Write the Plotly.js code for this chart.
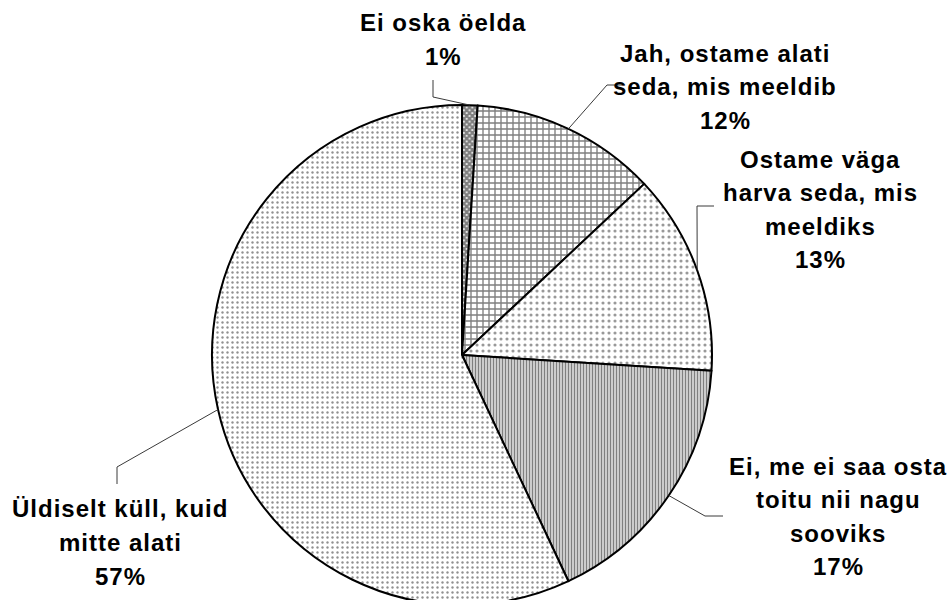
<!DOCTYPE html>
<html><head><meta charset="utf-8">
<script src="https://cdn.plot.ly/plotly-3.0.1.min.js"></script>
<style>html,body{margin:0;padding:0;overflow:hidden;background:#fff}#chart{width:951px;height:610px}</style>
</head><body><div id="chart"></div>
<script>
// ---- data ----
const categories = ["Ei oska öelda", "Jah, ostame alati seda, mis meeldib", "Ostame väga harva seda, mis meeldiks", "Ei, me ei saa osta toitu nii nagu sooviks", "Üldiselt küll, kuid mitte alati"];
const values = [1, 12, 13, 17, 57];
const labelLines = [
  ["Ei oska öelda"],
  ["Jah, ostame alati", "seda, mis meeldib"],
  ["Ostame väga", "harva seda, mis", "meeldiks"],
  ["Ei, me ei saa osta", "toitu nii nagu", "sooviks"],
  ["Üldiselt küll, kuid", "mitte alati"]
];

// ---- layout / style config (pixels) ----
const W = 951, H = 610;
const CX = 462, CY = 355, R = 250;
const LINE_GAP = 33.5;
const labelPos = [
  {x: 443, y: 23, elbow: [433, 97], end: [433, 80]},
  {x: 725, y: 53, elbow: [607, 85], end: [622, 85]},
  {x: 820, y: 159, elbow: [697, 206], end: [714, 206]},
  {x: 838, y: 466, elbow: [705, 516], end: [723, 516]},
  {x: 120, y: 509, elbow: [117, 467], end: [117, 484]}
];
const patShape = ["x", "+", ".", "|", "."];
const patSize = [4, 6, 6, 3, 5];
const patSolid = [0.8, 0.4, 0.22, 0.6, 0.18];
const patFg = ["#000", "#000", "#333", "#000", "#222"];

const px = x => x / W;
const py = y => 1 - y / H;
const total = values.reduce((a, b) => a + b, 0);

const trace = {
  type: "pie", values: values, labels: categories, sort: false,
  direction: "clockwise", rotation: 0, textinfo: "none", hoverinfo: "none",
  showlegend: false,
  domain: {x: [px(CX - R), px(CX + R)], y: [py(CY + R), py(CY - R)]},
  marker: {
    colors: values.map(() => "#ffffff"),
    line: {color: "#000", width: 2},
    pattern: {shape: patShape, size: patSize, solidity: patSolid, fgcolor: patFg, bgcolor: "#ffffff", fillmode: "overlay"}
  }
};

const annotations = [], shapes = [];
let cum = 0;
values.forEach((v, i) => {
  const mid = (cum + v / 2) / total * 2 * Math.PI;
  cum += v;
  const ex = CX + R * Math.sin(mid), ey = CY - R * Math.cos(mid);
  const p = labelPos[i];
  shapes.push({type: "path", xref: "paper", yref: "paper",
    path: `M ${px(ex)} ${py(ey)} L ${px(p.elbow[0])} ${py(p.elbow[1])} L ${px(p.end[0])} ${py(p.end[1])}`,
    line: {color: "#3a3a3a", width: 1}});
  const lines = labelLines[i].concat([Math.round(v / total * 100) + "%"]);
  lines.forEach((t, k) => {
    annotations.push({xref: "paper", yref: "paper", x: px(p.x), y: py(p.y + k * LINE_GAP),
      xanchor: "center", yanchor: "middle", showarrow: false,
      text: '<b><span style="letter-spacing:1px">' + t + '</span></b>',
      font: {family: "Liberation Sans, Arial, sans-serif", size: 24, color: "#000"}});
  });
});

Plotly.newPlot("chart", [trace], {
  width: W, height: H, margin: {l: 0, r: 0, t: 0, b: 0},
  paper_bgcolor: "#fff", plot_bgcolor: "#fff",
  annotations: annotations, shapes: shapes
}, {displayModeBar: false, staticPlot: true});
</script></body></html>
